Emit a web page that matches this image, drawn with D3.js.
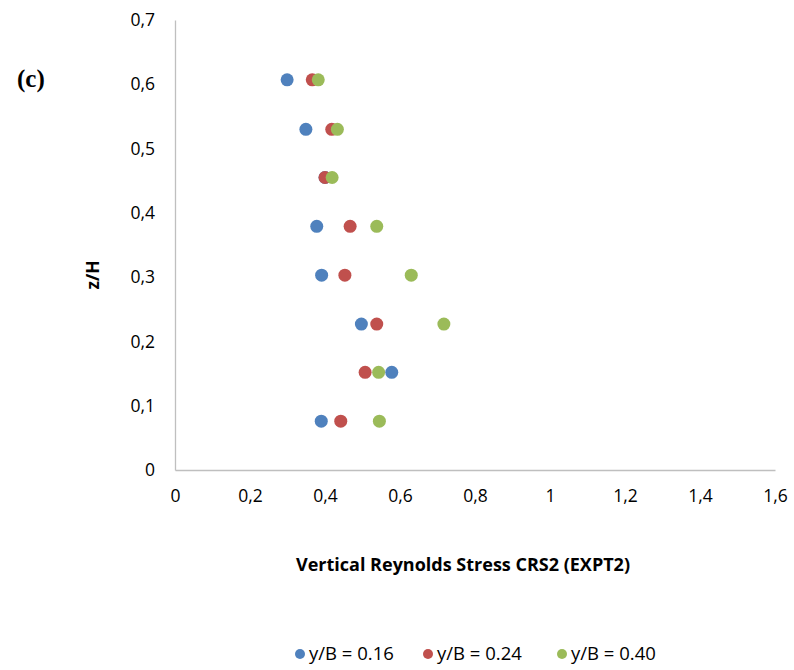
<!DOCTYPE html>
<html>
<head>
<meta charset="utf-8">
<script src="https://cdn.jsdelivr.net/npm/d3@7"></script>
<style>
  body { margin: 0; background: #fff; }
  text { font-family: "Open Sans", Lato, sans-serif; fill: #000; }
</style>
</head>
<body>
<div id="chart"></div>
<script>
// z/H levels shared by all series
const zLevels = [0.607, 0.530, 0.455, 0.379, 0.303, 0.227, 0.152, 0.076];

// Vertical Reynolds stress for each y/B
const seriesNames = ['y/B = 0.16', 'y/B = 0.24', 'y/B = 0.40'];
const stress016 = [0.299, 0.349, 0.40, 0.378, 0.391, 0.497, 0.578, 0.390];
const stress024 = [0.366, 0.418, 0.40, 0.467, 0.453, 0.538, 0.507, 0.442];
const stress040 = [0.382, 0.433, 0.419, 0.538, 0.630, 0.717, 0.543, 0.545];
const seriesColors = ['#4F81BD', '#C0504D', '#9BBB59'];

const xTicks = [0, 0.2, 0.4, 0.6, 0.8, 1, 1.2, 1.4, 1.6];
const yTicks = [0, 0.1, 0.2, 0.3, 0.4, 0.5, 0.6, 0.7];

const width = 794, height = 670;
const margin = { top: 20, right: 19, bottom: 200, left: 175 };

const svg = d3.select('#chart')
    .append('svg')
    .attr('width', width)
    .attr('height', height);

const xScale = d3.scaleLinear()
    .domain([0, 1.6])
    .range([margin.left, width - margin.right]);

const yScale = d3.scaleLinear()
    .domain([0, 0.7])
    .range([height - margin.bottom, margin.top]);

const fmt = d => d3.format('.1~f')(d).replace('.', ',');

// x axis
const gX = svg.append('g')
    .attr('transform', `translate(0, ${yScale(0)})`)
    .call(d3.axisBottom(xScale).tickValues(xTicks).tickFormat(fmt).tickSize(0).tickPadding(20));
gX.select('.domain').attr('stroke', '#BFBFBF').attr('stroke-width', 1.3);
gX.selectAll('text').style('font-size', '17.5px').style('font-family', '"Open Sans", sans-serif');

// y axis
const gY = svg.append('g')
    .attr('transform', `translate(${xScale(0)}, 0)`)
    .call(d3.axisLeft(yScale).tickValues(yTicks).tickFormat(fmt).tickSize(0).tickPadding(20));
gY.select('.domain').attr('stroke', '#BFBFBF').attr('stroke-width', 1.3);
gY.selectAll('text').style('font-size', '17.5px').style('font-family', '"Open Sans", sans-serif');

// points, drawn series by series so later ones sit on top
const allSeries = [stress016, stress024, stress040];
allSeries.forEach((vals, si) => {
    svg.append('g')
        .selectAll('circle')
        .data(vals.map((v, i) => ({ x: v, z: zLevels[i] })))
        .enter()
        .append('circle')
        .attr('cx', d => xScale(d.x))
        .attr('cy', d => yScale(d.z))
        .attr('r', 6.5)
        .attr('fill', seriesColors[si]);
});

// axis titles
svg.append('text')
    .attr('x', 463)
    .attr('y', 571)
    .attr('text-anchor', 'middle')
    .style('font-size', '18px')
    .style('font-weight', 'bold')
    .text('Vertical Reynolds Stress CRS2 (EXPT2)');

svg.append('text')
    .attr('transform', 'translate(99, 275) rotate(-90)')
    .attr('text-anchor', 'middle')
    .style('font-size', '17.5px')
    .style('font-weight', 'bold')
    .text('z/H');

// panel tag
svg.append('text')
    .attr('x', 17)
    .attr('y', 87)
    .style('font-family', '"Liberation Serif", serif')
    .style('font-size', '25px')
    .style('font-weight', 'bold')
    .text('(c)');

// legend
const legendX = [300, 428, 562];
const legend = svg.append('g');
seriesNames.forEach((name, i) => {
    legend.append('circle')
        .attr('cx', legendX[i])
        .attr('cy', 654)
        .attr('r', 5)
        .attr('fill', seriesColors[i]);
    legend.append('text')
        .attr('x', legendX[i] + 9)
        .attr('y', 660)
        .style('font-size', '18.5px')
        .text(name);
});
</script>
</body>
</html>
